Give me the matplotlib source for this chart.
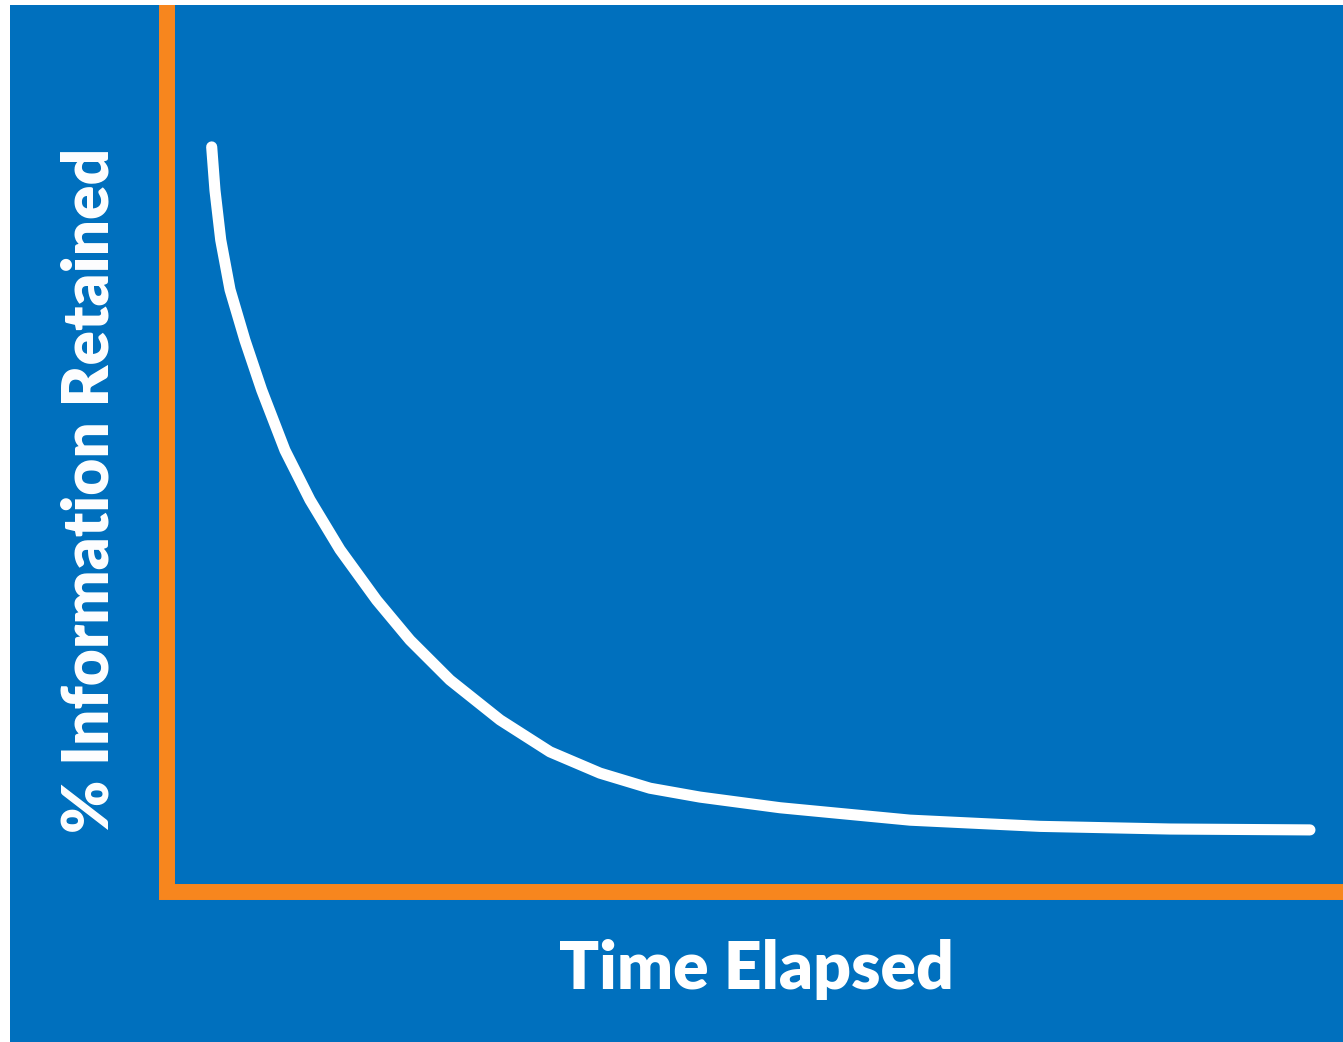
import matplotlib.pyplot as plt
from matplotlib.patches import Rectangle

# forgetting curve (x = time 0-100, y = % retained 0-100)
time_elapsed = [3.80, 4.08, 4.57, 5.36, 6.63, 8.05, 10.03, 12.16, 14.71, 17.83,
                20.66, 24.06, 28.32, 32.57, 36.82, 41.07, 45.32, 52.13, 63.18,
                74.23, 85.29, 97.19]
retained = [84.0, 79.1, 73.5, 67.9, 62.2, 56.6, 49.8, 44.2, 38.6, 32.9,
            28.4, 23.9, 19.4, 15.8, 13.4, 11.7, 10.7, 9.5, 8.1,
            7.4, 7.1, 7.0]

x_label = 'Time Elapsed'
y_label = '% Information Retained'

blue = '#0070BE'
orange = '#F7861E'
W, H = 1343, 1042

fig = plt.figure(figsize=(W / 100, H / 100), dpi=100, facecolor='white')
fig.patches.append(Rectangle((10 / W, 0), 1, (H - 5) / H, transform=fig.transFigure,
                             facecolor=blue, edgecolor='none', zorder=-1))

ax = fig.add_axes([167 / W, 150 / H, 1 - 167 / W, (892 - 5) / H])
ax.set_zorder(2)
ax.set_facecolor('none')
ax.set_xlim(0, 100)
ax.set_ylim(0, 100)
ax.set_xticks([])
ax.set_yticks([])
for s in ['top', 'right']:
    ax.spines[s].set_visible(False)
ax.spines['left'].set_color(orange)
ax.spines['left'].set_linewidth(11.5)
ax.spines['left'].set_capstyle('butt')
ax.spines['bottom'].set_color(orange)
ax.spines['bottom'].set_linewidth(11.5)
ax.spines['bottom'].set_capstyle('projecting')

ax.plot(time_elapsed, retained, color='white', lw=8, solid_capstyle='round',
        solid_joinstyle='round', clip_on=False)

fig.text(756 / W, 1 - 970 / H, x_label, color='white', fontsize=47.5,
         fontweight='heavy', family='Lato', ha='center', va='center', zorder=3)
fig.text(90 / W, 1 - 490 / H, y_label, color='white', fontsize=46,
         fontweight='heavy', family='Lato', ha='center', va='center',
         rotation=90, zorder=3)

fig.savefig('out.png', dpi=100, facecolor=fig.get_facecolor())
